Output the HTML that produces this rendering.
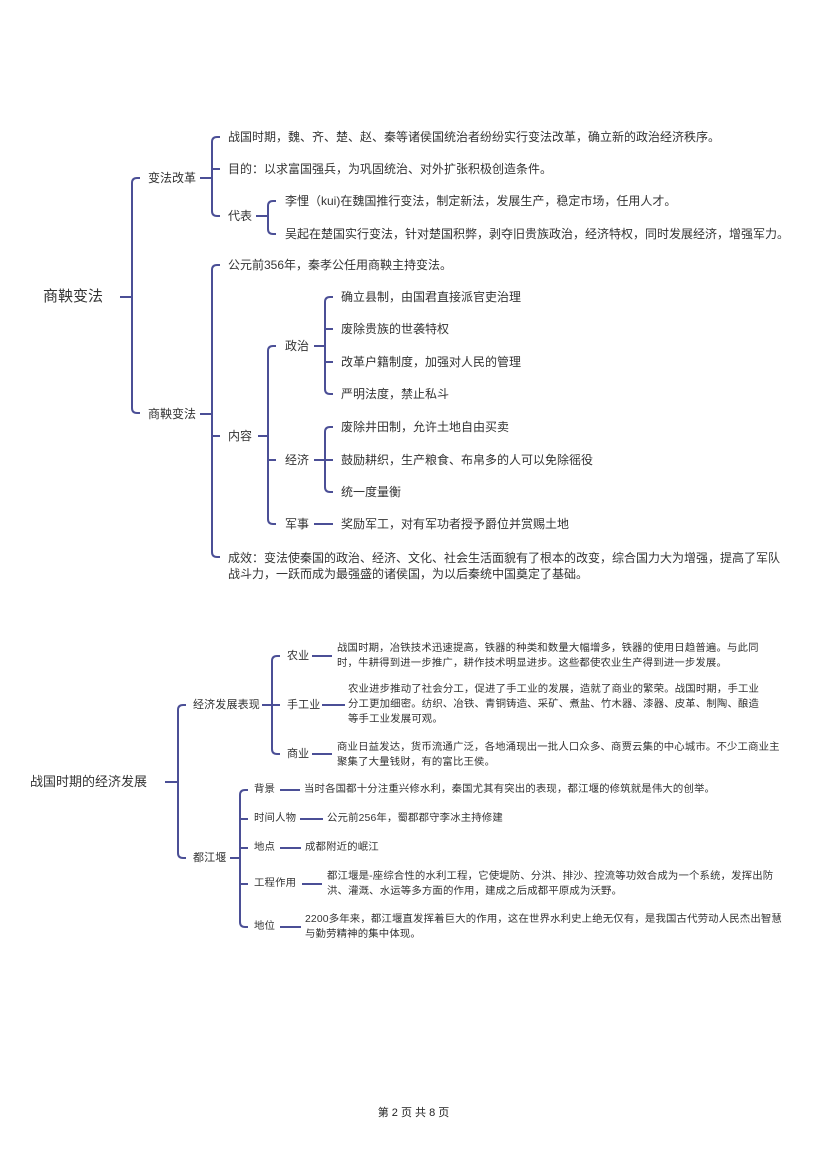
<!DOCTYPE html>
<html><head><meta charset="utf-8">
<style>
body{margin:0;background:#fff;}
#p{position:relative;width:827px;height:1169px;overflow:hidden;font-family:"Liberation Sans","Noto Sans CJK SC",sans-serif;color:#333;}
.t{position:absolute;white-space:nowrap;font-size:12px;line-height:14px;transform:translateY(-7px);}
.s{font-size:10.4px;line-height:14px;transform:translateY(-7px);letter-spacing:0.15px;}
svg{position:absolute;left:0;top:0;}
</style></head><body><div id="p">
<svg width="827" height="1169" fill="none" stroke="#4b4f96" stroke-width="2">
<!-- section 1 -->
<path d="M120 297H132"/>
<path d="M140 178H137Q132 178 132 183V408Q132 413 137 413H140"/>
<path d="M200 178H212"/>
<path d="M220 137H217Q212 137 212 142V211Q212 216 217 216H220"/>
<path d="M212 169H220"/>
<path d="M256 216H268"/>
<path d="M276 201H273Q268 201 268 206V229Q268 234 273 234H276"/>
<path d="M200 414H212"/>
<path d="M220 265H217Q212 265 212 270V552Q212 557 217 557H220"/>
<path d="M212 436H220"/>
<path d="M258 436H268"/>
<path d="M276 346H273Q268 346 268 351V519Q268 524 273 524H276"/>
<path d="M268 460H276"/>
<path d="M314 346H325"/>
<path d="M333 297H330Q325 297 325 302V389Q325 394 330 394H333"/>
<path d="M325 329H333M325 362H333"/>
<path d="M314 460H325"/>
<path d="M333 427H330Q325 427 325 432V487Q325 492 330 492H333"/>
<path d="M325 460H333"/>
<path d="M314 524H333"/>
<!-- section 2 -->
<path d="M165 782H178"/>
<path d="M186 705H183Q178 705 178 710V853Q178 858 183 858H186"/>
<path d="M262 705H272"/>
<path d="M280 656H277Q272 656 272 661V749Q272 754 277 754H280"/>
<path d="M272 705H280"/>
<path d="M312 656H332M322 705H345M312 754H332"/>
<path d="M230 858H240"/>
<path d="M248 790H245Q240 790 240 795V922Q240 927 245 927H248"/>
<path d="M240 819H248M240 848H248M240 884H248"/>
<path d="M280 790H300M300 819H323M280 848H301M302 884H322M280 927H301"/>
</svg>
<div class="t" style="left:43px;top:297px;font-size:15px;line-height:18px;transform:translateY(-9px)">商鞅变法</div>
<div class="t" style="left:148px;top:178px">变法改革</div>
<div class="t" style="left:228px;top:137px">战国时期，魏、齐、楚、赵、秦等诸侯国统治者纷纷实行变法改革，确立新的政治经济秩序。</div>
<div class="t" style="left:228px;top:169px">目的：以求富国强兵，为巩固统治、对外扩张积极创造条件。</div>
<div class="t" style="left:228px;top:216px">代表</div>
<div class="t" style="left:285px;top:201px">李悝（kui)在魏国推行变法，制定新法，发展生产，稳定市场，任用人才。</div>
<div class="t" style="left:285px;top:234px">吴起在楚国实行变法，针对楚国积弊，剥夺旧贵族政治，经济特权，同时发展经济，增强军力。</div>
<div class="t" style="left:228px;top:265px">公元前356年，秦孝公任用商鞅主持变法。</div>
<div class="t" style="left:148px;top:414px">商鞅变法</div>
<div class="t" style="left:228px;top:436px">内容</div>
<div class="t" style="left:285px;top:346px">政治</div>
<div class="t" style="left:341px;top:297px">确立县制，由国君直接派官吏治理</div>
<div class="t" style="left:341px;top:329px">废除贵族的世袭特权</div>
<div class="t" style="left:341px;top:362px">改革户籍制度，加强对人民的管理</div>
<div class="t" style="left:341px;top:394px">严明法度，禁止私斗</div>
<div class="t" style="left:285px;top:460px">经济</div>
<div class="t" style="left:341px;top:427px">废除井田制，允许土地自由买卖</div>
<div class="t" style="left:341px;top:460px">鼓励耕织，生产粮食、布帛多的人可以免除徭役</div>
<div class="t" style="left:341px;top:492px">统一度量衡</div>
<div class="t" style="left:285px;top:524px">军事</div>
<div class="t" style="left:341px;top:524px">奖励军工，对有军功者授予爵位并赏赐土地</div>
<div class="t" style="left:228px;top:558px">成效：变法使秦国的政治、经济、文化、社会生活面貌有了根本的改变，综合国力大为增强，提高了军队</div>
<div class="t" style="left:228px;top:574px">战斗力，一跃而成为最强盛的诸侯国，为以后秦统中国奠定了基础。</div>

<div class="t" style="left:30px;top:782px;font-size:13px">战国时期的经济发展</div>
<div class="t s" style="left:193px;top:705px;font-size:11px">经济发展表现</div>
<div class="t s" style="left:287px;top:656px;font-size:11px">农业</div>
<div class="t s" style="left:337px;top:649px">战国时期，冶铁技术迅速提高，铁器的种类和数量大幅增多，铁器的使用日趋普遍。与此同</div>
<div class="t s" style="left:337px;top:664px">时，牛耕得到进一步推广，耕作技术明显进步。这些都使农业生产得到进一步发展。</div>
<div class="t s" style="left:287px;top:705px;font-size:11px">手工业</div>
<div class="t s" style="left:348px;top:690px">农业进步推动了社会分工，促进了手工业的发展，造就了商业的繁荣。战国时期，手工业</div>
<div class="t s" style="left:348px;top:705px">分工更加细密。纺织、冶铁、青铜铸造、采矿、煮盐、竹木器、漆器、皮革、制陶、酿造</div>
<div class="t s" style="left:348px;top:720px">等手工业发展可观。</div>
<div class="t s" style="left:287px;top:754px;font-size:11px">商业</div>
<div class="t s" style="left:337px;top:748px">商业日益发达，货币流通广泛，各地涌现出一批人口众多、商贾云集的中心城市。不少工商业主</div>
<div class="t s" style="left:337px;top:763px">聚集了大量钱财，有的富比王侯。</div>
<div class="t s" style="left:193px;top:858px;font-size:11px">都江堰</div>
<div class="t s" style="left:254px;top:790px">背景</div>
<div class="t s" style="left:304px;top:790px">当时各国都十分注重兴修水利，秦国尤其有突出的表现，都江堰的修筑就是伟大的创举。</div>
<div class="t s" style="left:254px;top:819px">时间人物</div>
<div class="t s" style="left:327px;top:819px">公元前256年，蜀郡郡守李冰主持修建</div>
<div class="t s" style="left:254px;top:848px">地点</div>
<div class="t s" style="left:305px;top:848px">成都附近的岷江</div>
<div class="t s" style="left:254px;top:884px">工程作用</div>
<div class="t s" style="left:327px;top:877px">都江堰是-座综合性的水利工程，它使堤防、分洪、排沙、控流等功效合成为一个系统，发挥出防</div>
<div class="t s" style="left:327px;top:892px">洪、灌溉、水运等多方面的作用，建成之后成都平原成为沃野。</div>
<div class="t s" style="left:254px;top:927px">地位</div>
<div class="t s" style="left:305px;top:920px">2200多年来，都江堰直发挥着巨大的作用，这在世界水利史上绝无仅有，是我国古代劳动人民杰出智慧</div>
<div class="t s" style="left:305px;top:935px">与勤劳精神的集中体现。</div>

<div class="t" style="left:0;width:827px;text-align:center;top:1113px;font-size:11px;color:#222">第 2 页 共 8 页</div>
</div></body></html>
